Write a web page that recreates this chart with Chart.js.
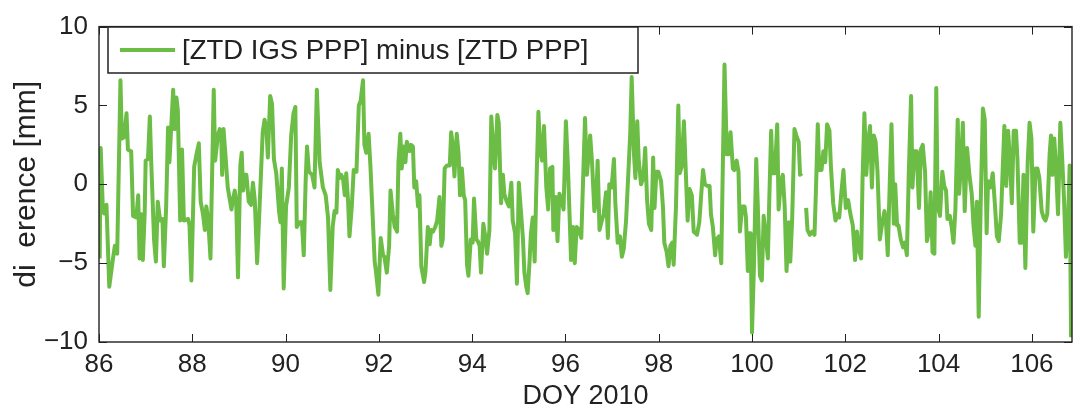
<!DOCTYPE html>
<html>
<head>
<meta charset="utf-8">
<script src="https://cdn.jsdelivr.net/npm/chart.js@4.4.1/dist/chart.umd.min.js"></script>
<style>
  body { margin: 0; background: #fff; }
  #wrap { width: 1073px; height: 413px; }
</style>
</head>
<body>
<div id="wrap"><canvas id="chart" width="1073" height="413"></canvas></div>
<script>
// day of year 2010 (fractional) and ZTD difference in mm
var doy = [
  86.015, 86.036, 86.08, 86.11, 86.16, 86.22, 86.30, 86.34, 86.39, 86.46,
  86.49, 86.54, 86.59, 86.62, 86.69, 86.73, 86.80, 86.84, 86.87, 86.91,
  86.94, 86.98, 87.00, 87.05, 87.09, 87.12, 87.18, 87.22, 87.26, 87.31,
  87.36, 87.39, 87.44, 87.48, 87.51, 87.59, 87.62, 87.66, 87.69, 87.74,
  87.78, 87.82, 87.91, 87.94, 87.98, 88.04, 88.09, 88.14, 88.18, 88.23,
  88.27, 88.30, 88.34, 88.39, 88.46, 88.49, 88.55,
  88.59, 88.62, 88.64, 88.67, 88.71, 88.76, 88.84, 88.87, 88.91, 88.94,
  88.98, 89.03, 89.06, 89.09, 89.12, 89.16, 89.21, 89.26, 89.30, 89.34,
  89.39, 89.43, 89.48, 89.51, 89.55, 89.59, 89.62, 89.67, 89.71, 89.75,
  89.80, 89.86, 89.89, 89.92, 89.96, 90.01, 90.07, 90.12, 90.17, 90.21,
  90.24, 90.30, 90.35, 90.39, 90.43, 90.46, 90.50, 90.57, 90.62, 90.67,
  90.73, 90.80, 90.86, 90.91, 90.96, 91.01, 91.05, 91.09, 91.12, 91.16,
  91.19, 91.23,
  91.27, 91.30, 91.34, 91.37, 91.42, 91.46, 91.52, 91.57, 91.61, 91.66,
  91.69, 91.73, 91.78, 91.82, 91.85, 91.91, 91.94, 91.99, 92.04, 92.09,
  92.12, 92.17, 92.22, 92.25, 92.30, 92.34, 92.39, 92.42, 92.46, 92.49,
  92.53, 92.57, 92.60, 92.66, 92.69, 92.73, 92.76, 92.80, 92.84, 92.87,
  92.91, 92.97, 93.00, 93.05, 93.09, 93.12, 93.16, 93.21, 93.25, 93.30,
  93.34, 93.37, 93.41, 93.46, 93.52, 93.55, 93.59, 93.62, 93.67, 93.71,
  93.74, 93.78, 93.82, 93.85, 93.89,
  93.92, 93.97, 94.01, 94.04, 94.09, 94.12, 94.16, 94.19, 94.24, 94.29,
  94.32, 94.37, 94.41, 94.46, 94.49, 94.54, 94.57, 94.62, 94.66, 94.69,
  94.73, 94.79, 94.84, 94.87, 94.92, 94.96, 95.00, 95.05, 95.09, 95.12,
  95.16, 95.19, 95.23, 95.26, 95.30, 95.34, 95.37, 95.42, 95.46, 95.50,
  95.54, 95.59, 95.63, 95.67, 95.72, 95.74, 95.79, 95.83, 95.87, 95.91,
  95.96, 96.01, 96.05, 96.09, 96.12, 96.16, 96.20, 96.24, 96.29, 96.34,
  96.39, 96.42, 96.46, 96.49, 96.53, 96.57, 96.62,
  96.66, 96.69, 96.73, 96.78, 96.82, 96.87, 96.91, 96.94, 96.99, 97.04,
  97.07, 97.12, 97.17, 97.21, 97.25, 97.30, 97.35, 97.39, 97.42, 97.47,
  97.50, 97.54, 97.57, 97.62, 97.67, 97.71, 97.75, 97.79, 97.84, 97.88,
  97.91, 97.95, 97.99, 98.05, 98.09, 98.12, 98.17, 98.21, 98.25, 98.29,
  98.32, 98.37, 98.42, 98.45, 98.49, 98.54, 98.57, 98.62, 98.66, 98.71,
  98.75, 98.79, 98.82, 98.87, 98.91, 98.95, 98.99, 99.04, 99.09, 99.12,
  99.16, 99.21, 99.24, 99.29, 99.34,
  99.41, 99.46, 99.50, 99.54, 99.59, 99.62, 99.67, 99.71, 99.74, 99.79,
  99.84, 99.87, 99.91, 99.94, 99.97, 100.00, 100.04, 100.09, 100.12, 100.17,
  100.21, 100.25, 100.29, 100.34, 100.37, 100.41, 100.44, 100.49, 100.54, 100.57,
  100.62, 100.66, 100.70, 100.74, 100.79, 100.82, 100.86, 100.91, 100.96, 101.00,
  101.03, 101.07, 101.11,
  101.16, 101.19, 101.24, 101.29, 101.34, 101.37, 101.41, 101.44, 101.49, 101.53,
  101.57, 101.61, 101.66, 101.69, 101.74, 101.79, 101.83, 101.87, 101.91, 101.96,
  102.01, 102.06, 102.11, 102.16, 102.21, 102.25, 102.29, 102.34, 102.37, 102.41,
  102.45, 102.49, 102.53, 102.57, 102.61, 102.65, 102.69, 102.74, 102.79, 102.84,
  102.87, 102.91, 102.95, 102.99, 103.04, 103.07, 103.11, 103.14, 103.19, 103.24,
  103.28, 103.32, 103.36, 103.41, 103.44, 103.48, 103.53, 103.58, 103.62, 103.66,
  103.71, 103.75, 103.79, 103.83, 103.87, 103.91, 103.95, 103.98, 104.03, 104.08,
  104.12, 104.16, 104.19, 104.24, 104.28, 104.32, 104.36, 104.41, 104.44, 104.48,
  104.52, 104.56, 104.61,
  104.66, 104.71, 104.75, 104.79, 104.82, 104.86, 104.90, 104.95, 104.99, 105.03,
  105.06, 105.11, 105.16, 105.21, 105.25, 105.29, 105.34, 105.37, 105.41, 105.45,
  105.49, 105.53, 105.57, 105.61, 105.66, 105.69, 105.74, 105.78, 105.82, 105.86,
  105.91, 105.95, 105.99, 106.03, 106.08, 106.12, 106.16, 106.21, 106.25, 106.29,
  106.33, 106.38, 106.41, 106.44, 106.48, 106.52, 106.56, 106.61, 106.65, 106.69,
  106.73, 106.78, 106.81, 106.84
];
var diffMm = [
  -4.7, 2.3, -1.3, -1.85, -1.3, -6.5, -4.7, -3.9, -4.4, 6.6,
  2.9, 3.0, 4.5, 2.2, 2.1, -2.0, -2.1, -0.7, -4.7, -1.9,
  -4.8, -1.8, 1.5, 1.6, 4.3, 1.4, -3.5, -4.9, -1.1, -2.3,
  -2.2, -5.2, -1.4, 3.6, 1.4, 6.0, 3.5, 5.5, 4.7, -2.3,
  2.2, -2.3, -2.2, -2.6, -6.1, 1.1, 1.9, 2.6, -1.1, -1.9,
  -2.9, -1.4, -2.2, -4.7, 6.0, 1.5, 3.1,
  3.5, 3.1, 0.6, 3.5, 1.9, -0.2, -1.6, -1.0, -0.4, -1.0,
  -5.9, 1.2, 2.0, -0.4, 0.6, 0.6, -1.1, -1.3, 0.1, -1.0,
  -5.0, -2.3, 1.2, 3.3, 4.1, 3.5, 1.7, 5.6, 5.1, 1.6,
  0.7, -1.7, -2.4, 1.0, -6.6, -1.4, -0.2, 3.1, 4.5, 4.9,
  -2.7, -2.4, -2.4, -4.5, 0.2, 2.4, 0.8, 0.6, -0.2, 6.0,
  1.4, -0.2, -0.7, -2.1, -6.7, -2.7, -1.7, -1.8, 0.9, 0.4,
  0.6, 0.4,
  -0.7, 0.7, -1.1, -3.3, -1.4, 0.9, 0.8, 5.0, 5.3, 6.6,
  2.5, 2.0, 3.2, 1.1, -0.9, -4.9, -5.6, -7.0, -3.4, -4.5,
  -4.6, -5.6, -3.9, -0.4, -1.9, -2.7, -3.0, 1.4, 3.2, 1.0,
  2.4, 1.4, 2.7, 2.1, 2.5, 2.4, -0.2, 0.2, -1.4, -0.7,
  -5.2, -6.2, -5.5, -2.7, -3.8, -2.9, -3.0, -2.7, -2.3, -0.8,
  -3.9, -3.5, 1.0, 1.2, 1.2, 3.3, 2.3, 0.5, 3.2, 1.9,
  -0.7, 1.0, -0.7, -1.0, -5.1,
  -5.8, -3.5, -3.7, -0.9, -3.5, -3.6, -3.9, -5.6, -2.5, -3.5,
  -4.4, -2.9, 4.3, 1.9, 1.0, 4.4, 3.9, -1.2, 0.6, -0.6,
  -1.0, -1.4, 0.1, -2.3, -3.1, -6.3, 0.1, -1.9, -3.5, -5.6,
  -6.5, -6.9, -4.9, -3.1, -2.1, -4.9, -0.9, 4.6, 2.1, 1.5,
  3.7, -0.2, -1.6, 1.0, 1.1, -2.9, -0.8, -3.6, -0.6, -0.9,
  -1.6, 4.0, 1.4, -2.1, -4.8, -2.7, -5.0, -2.7, -2.9, -3.4,
  1.4, 4.2, 0.6, 1.6, 3.1, 1.4, -1.7,
  -1.0, 1.5, -2.9, -2.3, -1.9, -0.5, -3.4, 0.0, -0.2, 1.6,
  -1.2, -3.7, -3.3, -4.6, -4.1, -2.3, 0.8, 3.3, 6.8, 1.9,
  0.4, 4.0, 1.6, 0.0, 0.4, 2.3, -1.0, -2.5, -2.9, 1.7,
  -1.5, 0.8, 0.8, 0.2, -1.4, -3.7, -4.3, -5.2, -3.9, -3.7,
  -5.1, -1.4, 5.0, 0.7, 1.1, 4.0, 1.6, -2.3, -0.3, -0.7,
  -3.0, -3.1, -3.2, -2.4, -0.7, 0.9, 0.0, -0.1, -0.1, -1.9,
  -2.7, -4.5, -3.5, -3.3, -5.0,
  7.6, 1.9, 1.9, 3.3, 1.0, 0.9, 1.5, 0.8, -3.0, -1.4,
  -1.4, -2.1, -5.5, -3.1, -3.1, -9.4, -5.3, 1.6, -1.0, -5.8,
  -6.1, -2.0, -3.1, -4.7, -1.0, 3.4, 0.7, 0.7, 3.8, -1.6,
  0.2, 0.6, -1.4, -5.5, -2.4, -4.9, -2.3, 3.5, 3.0, 2.7,
  0.6, 0.7, null,
  -1.5, -2.9, -3.2, -3.0, -3.2, -0.4, 3.8, 0.9, 0.9, 2.1,
  1.4, 3.8, 3.4, 1.2, -1.2, -2.3, -1.9, -2.1, -0.7, 0.9,
  -1.5, -1.0, -1.9, -2.6, -4.8, -3.0, -4.1, -4.7, 0.4, 4.5,
  0.6, 2.7, 3.7, -0.2, 3.1, 2.7, 0.8, -3.5, -2.5, -1.7,
  -2.3, -4.5, -0.2, 3.8, -2.5, 0.0, -2.6, -2.6, -3.5, -4.0,
  -3.7, -4.5, 0.6, 5.6, -0.2, 2.1, 2.1, -1.5, 2.2, 2.5,
  0.8, -3.6, -3.0, -0.5, -4.3, -4.4, 6.1, -1.4, -2.0, 0.8,
  -0.1, -0.4, -2.2, -2.0, -2.7, -3.7, -1.6, 4.1, -0.6, 1.2,
  3.9, -1.7, 2.3,
  0.6, -0.6, -2.7, -3.9, -1.1, -8.4, -1.6, 4.8, 4.1, -3.1,
  0.2, -0.2, 0.7, -1.4, -3.3, -3.6, -1.9, 0.6, 3.7, -0.1,
  3.4, 1.6, -1.2, 3.4, 3.4, 1.6, -3.7, -3.7, 0.6, -5.3,
  1.4, 3.9, 2.9, -3.0, 1.0, 1.0, 0.4, -1.7, -2.1, -2.3,
  -1.9, 1.9, 3.1, 0.6, 2.9, 0.9, -1.9, 3.9, 1.6, -1.0,
  -4.6, -1.9, 1.2, -9.7
];
var xTicks = [86, 88, 90, 92, 94, 96, 98, 100, 102, 104, 106];
var yTicks = [-10, -5, 0, 5, 10];
var seriesName = "[ZTD IGS PPP] minus [ZTD PPP]";

var points = doy.map(function (d, i) { return { x: d, y: diffMm[i] }; });

var axisColor = "#222222";
var lineColor = "#6cbd45";
var fontFamily = "'Liberation Sans', Arial, Helvetica, sans-serif";

// tick labels in the picture are narrower than Arial; use the narrow face if present
var probe = document.createElement("canvas").getContext("2d");
probe.font = "30px 'Liberation Sans Narrow', serif";
var wNarrow = probe.measureText("1006").width;
probe.font = "30px serif";
var haveNarrow = Math.abs(wNarrow - probe.measureText("1006").width) > 0.5;
var tickFont = haveNarrow
    ? { family: "'Liberation Sans Narrow', 'Liberation Sans', sans-serif", size: 30 }
    : { family: fontFamily, size: 26 };

// MATLAB-like box with inward ticks on all four sides
var boxPlugin = {
    id: "box",
    afterDraw: function (chart) {
        var ctx = chart.ctx;
        var a = chart.chartArea;
        var xs = chart.scales.x, ys = chart.scales.y;
        var tl = 8;
        ctx.save();
        ctx.strokeStyle = axisColor;
        ctx.lineWidth = 1.4;
        ctx.strokeRect(a.left, a.top, a.right - a.left, a.bottom - a.top);
        ctx.beginPath();
        xTicks.forEach(function (t) {
            var px = Math.round(xs.getPixelForValue(t)) + 0.5;
            ctx.moveTo(px, a.bottom); ctx.lineTo(px, a.bottom - tl);
            ctx.moveTo(px, a.top); ctx.lineTo(px, a.top + tl);
        });
        yTicks.forEach(function (t) {
            var py = Math.round(ys.getPixelForValue(t)) + 0.5;
            ctx.moveTo(a.left, py); ctx.lineTo(a.left + tl, py);
            ctx.moveTo(a.right, py); ctx.lineTo(a.right - tl, py);
        });
        ctx.lineWidth = 1;
        ctx.stroke();

        // legend box, upper left
        var lx = 108, ly = 27, lw = 530, lh = 46;
        ctx.fillStyle = "#fff";
        ctx.fillRect(lx, ly, lw, lh);
        ctx.lineWidth = 1.5;
        ctx.strokeRect(lx, ly, lw, lh);
        ctx.beginPath();
        ctx.strokeStyle = lineColor;
        ctx.lineWidth = 4;
        ctx.moveTo(lx + 12, ly + 23);
        ctx.lineTo(lx + 67, ly + 23);
        ctx.stroke();
        ctx.fillStyle = axisColor;
        ctx.font = "27.5px " + fontFamily;
        ctx.textBaseline = "middle";
        ctx.textAlign = "left";
        ctx.fillText(seriesName, lx + 74, ly + 24);
        ctx.restore();
    }
};

new Chart(document.getElementById("chart").getContext("2d"), {
    type: "line",
    data: {
        datasets: [{
            label: seriesName,
            data: points,
            borderColor: lineColor,
            borderWidth: 4,
            borderJoinStyle: "round",
            pointRadius: 0,
            tension: 0,
            spanGaps: false
        }]
    },
    options: {
        responsive: false,
        animation: false,
        devicePixelRatio: 1,
        layout: { padding: { top: 17, right: 1, left: 0, bottom: 0 } },
        plugins: { legend: { display: false }, tooltip: { enabled: false } },
        scales: {
            x: {
                type: "linear",
                min: 86,
                max: 106.86,
                afterFit: function (s) { s.height = 71; },
                afterBuildTicks: function (s) { s.ticks = xTicks.map(function (v) { return { value: v }; }); },
                grid: { display: false, drawTicks: false },
                border: { display: false },
                ticks: {
                    padding: 7,
                    color: axisColor,
                    font: tickFont,
                    maxRotation: 0,
                    callback: function (v) { return String(v); }
                },
                title: {
                    display: true,
                    text: "DOY 2010",
                    color: axisColor,
                    font: { family: fontFamily, size: 27 },
                    padding: { top: 0, bottom: 0 }
                }
            },
            y: {
                type: "linear",
                min: -10,
                max: 10,
                afterFit: function (s) { s.width = 99; },
                afterBuildTicks: function (s) { s.ticks = yTicks.map(function (v) { return { value: v }; }); },
                grid: { display: false, drawTicks: false },
                border: { display: false },
                ticks: {
                    padding: 11,
                    color: axisColor,
                    font: tickFont,
                    callback: function (v) { return v < 0 ? "\u2212" + Math.abs(v) : String(v); }
                },
                title: {
                    display: true,
                    text: "di  erence [mm]",
                    color: axisColor,
                    font: { family: fontFamily, size: 30 },
                    padding: { top: 9, bottom: 0 }
                }
            }
        }
    },
    plugins: [boxPlugin]
});
</script>
</body>
</html>
